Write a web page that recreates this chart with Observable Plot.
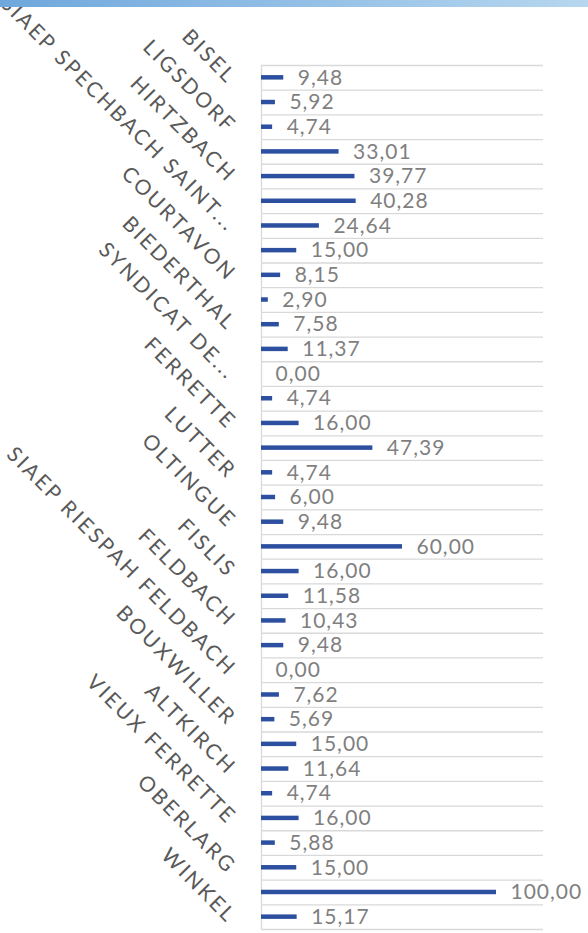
<!DOCTYPE html>
<html>
<head>
<meta charset="utf-8">
<script src="https://cdn.jsdelivr.net/npm/d3@7"></script>
<script src="https://cdn.jsdelivr.net/npm/@observablehq/plot@0.6"></script>
<style>
  html, body { margin: 0; padding: 0; background: #fff; }
  #wrap { position: relative; width: 588px; height: 933px; overflow: hidden; }
  #topbar { position: absolute; left: 0; top: 0; width: 588px; height: 7px;
    background: linear-gradient(to right, #6fa7dc, #b6d7ef); z-index: 2; }
  #chart { position: absolute; left: 0; top: 0; }
  svg { font-family: Lato, "Open Sans", sans-serif; }
</style>
</head>
<body>
<div id="wrap"><div id="topbar"></div><div id="chart"></div></div>
<script>
// Values per row (top to bottom)
const values = [9.48, 5.92, 4.74, 33.01, 39.77, 40.28, 24.64, 15.00, 8.15, 2.90,
  7.58, 11.37, 0.00, 4.74, 16.00, 47.39, 4.74, 6.00, 9.48, 60.00,
  16.00, 11.58, 10.43, 9.48, 0.00, 7.62, 5.69, 15.00, 11.64, 4.74,
  16.00, 5.88, 15.00, 100.00, 15.17];
// Category labels shown (every other row, starting with the first)
const labels = ["BISEL", "LIGSDORF", "HIRTZBACH", "SIAEP SPECHBACH SAINT...", "COURTAVON",
  "BIEDERTHAL", "SYNDICAT DE...", "FERRETTE", "LUTTER", "OLTINGUE", "FISLIS", "FELDBACH",
  "SIAEP RIESPAH FELDBACH", "BOUXWILLER", "ALTKIRCH", "VIEUX FERRETTE", "OBERLARG", "WINKEL"];

const n = values.length;
const rows = values.map((v, i) => ({i, value: v, label: i % 2 === 0 ? labels[i / 2] : ""}));
const boundaries = d3.range(n + 1);
const fmt = v => v.toFixed(2).replace(".", ",");

const plot = Plot.plot({
  width: 588,
  height: 933,
  marginLeft: 261,
  marginRight: 45,
  marginTop: 65,
  marginBottom: 4,
  x: {domain: [0, 120], axis: null},
  y: {domain: [0, n], reverse: true, axis: null},
  marks: [
    Plot.ruleY(boundaries, {y: d => d, x1: 0, x2: 120, stroke: "#d9d9d9", strokeWidth: 1.3}),
    Plot.ruleX([0], {y1: 0, y2: n, stroke: "#d9d9d9", strokeWidth: 1.3}),
    Plot.rectX(rows, {x1: 0, x2: "value", y1: d => d.i, y2: d => d.i + 1, insetTop: 10.1, insetBottom: 10.1, fill: "#2c4f9f"}),
    Plot.text(rows, {x: "value", y: d => d.i + 0.5, text: d => fmt(d.value), textAnchor: "start", dx: 14, fill: "#7f7f7f", fontSize: 21}),
    Plot.text(rows.filter(d => d.label), {x: 0, y: d => d.i + 0.5, text: "label", rotate: 45, textAnchor: "end", lineAnchor: "bottom", dx: -34, dy: 7, fill: "#595959", fontSize: 21})
  ]
});

const textGroups = d3.select(plot).selectAll('g[aria-label="text"]').nodes();
d3.select(textGroups[0]).attr("letter-spacing", "1px");
d3.select(textGroups[1]).attr("letter-spacing", "2.5px");
document.getElementById("chart").appendChild(plot);
</script>
</body>
</html>
